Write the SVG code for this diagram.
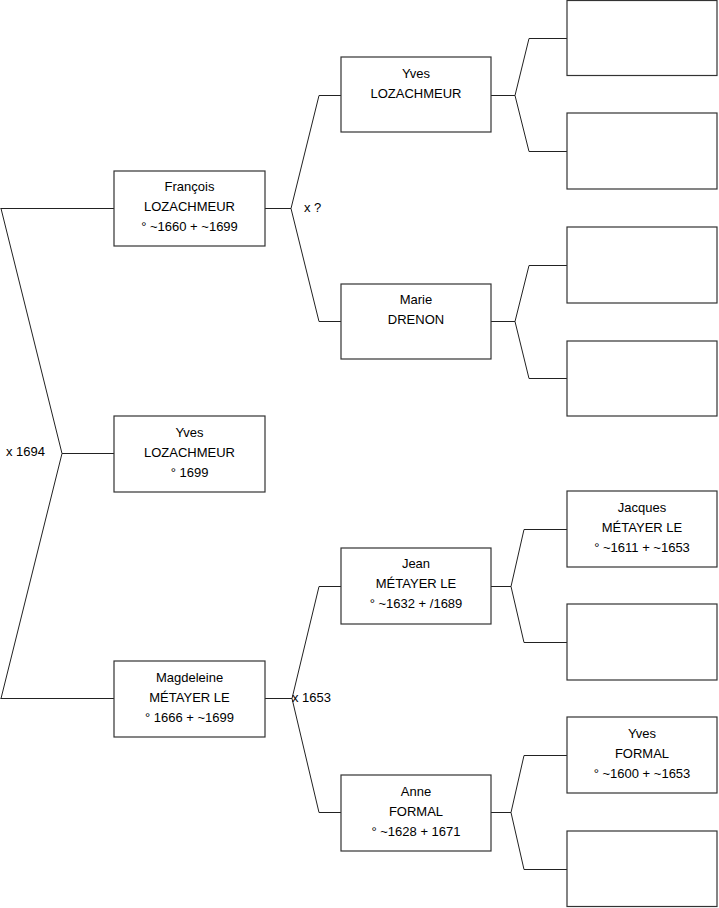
<svg xmlns="http://www.w3.org/2000/svg" width="719" height="908" viewBox="0 0 719 908">
<style>
.box{fill:#fff;stroke:#333;stroke-width:1.2}
.ln{fill:none;stroke:#222;stroke-width:1}
text{font-family:"Liberation Sans",Arial,sans-serif;font-size:13px;fill:#000}
.c{text-anchor:middle}
</style>
<rect width="719" height="908" fill="#fff"/>
<g id="connectors">
<path class="ln" d="M0.5,208.5H114M1,208.5L62,453.5L1,698.5M0.5,698.5H114M62,453.5H114"/>
<path class="ln" d="M265,208.5H291M341,95.5H319L291,208.5L319,321.5H341"/>
<path class="ln" d="M265,698.5H292M341,586.5H319L292,698.5L319,812.5H341"/>
<path class="ln" d="M491,95.5H515M567,38.5H529L515,95.5L529,151.5H567"/>
<path class="ln" d="M491,321.5H515M567,265.5H529L515,321.5L529,378.5H567"/>
<path class="ln" d="M491,586.5H511M567,529.5H524L511,586.5L524,642.5H567"/>
<path class="ln" d="M491,812.5H511M567,755.5H524L511,812.5L524,869.5H567"/>
<text x="6" y="456">x 1694</text>
<text x="304" y="212">x ?</text>
<text x="292" y="702">x 1653</text>
</g>
<g id="francois"><rect class="box" x="114" y="171" width="151" height="75"/>
<text class="c" x="189.5" y="191">François</text><text class="c" x="189.5" y="211">LOZACHMEUR</text><text class="c" x="189.5" y="231">° ~1660 + ~1699</text></g>
<g id="yves1"><rect class="box" x="114" y="416" width="151" height="76"/>
<text class="c" x="189.5" y="437">Yves</text><text class="c" x="189.5" y="457">LOZACHMEUR</text><text class="c" x="189.5" y="477">° 1699</text></g>
<g id="magdeleine"><rect class="box" x="114" y="661" width="151" height="76"/>
<text class="c" x="189.5" y="682">Magdeleine</text><text class="c" x="189.5" y="702">MÉTAYER LE</text><text class="c" x="189.5" y="722">° 1666 + ~1699</text></g>
<g id="yves2"><rect class="box" x="341" y="57" width="150" height="75"/>
<text class="c" x="416" y="78">Yves</text><text class="c" x="416" y="98">LOZACHMEUR</text></g>
<g id="marie"><rect class="box" x="341" y="284" width="150" height="75"/>
<text class="c" x="416" y="304">Marie</text><text class="c" x="416" y="324">DRENON</text></g>
<g id="jean"><rect class="box" x="341" y="548" width="150" height="76"/>
<text class="c" x="416" y="568">Jean</text><text class="c" x="416" y="588">MÉTAYER LE</text><text class="c" x="416" y="608">° ~1632 + /1689</text></g>
<g id="anne"><rect class="box" x="341" y="775" width="150" height="76"/>
<text class="c" x="416" y="796">Anne</text><text class="c" x="416" y="816">FORMAL</text><text class="c" x="416" y="836">° ~1628 + 1671</text></g>
<g id="r1"><rect class="box" x="567" y="0.5" width="150" height="75"/></g>
<g id="r2"><rect class="box" x="567" y="113" width="150" height="76"/></g>
<g id="r3"><rect class="box" x="567" y="227" width="150" height="76"/></g>
<g id="r4"><rect class="box" x="567" y="341" width="150" height="75"/></g>
<g id="jacques"><rect class="box" x="567" y="491" width="150" height="76"/>
<text class="c" x="642" y="512">Jacques</text><text class="c" x="642" y="532">MÉTAYER LE</text><text class="c" x="642" y="552">° ~1611 + ~1653</text></g>
<g id="r6"><rect class="box" x="567" y="604" width="150" height="76"/></g>
<g id="yves3"><rect class="box" x="567" y="717" width="150" height="76"/>
<text class="c" x="642" y="738">Yves</text><text class="c" x="642" y="758">FORMAL</text><text class="c" x="642" y="778">° ~1600 + ~1653</text></g>
<g id="r8"><rect class="box" x="567" y="831" width="150" height="75.5"/></g>
</svg>
